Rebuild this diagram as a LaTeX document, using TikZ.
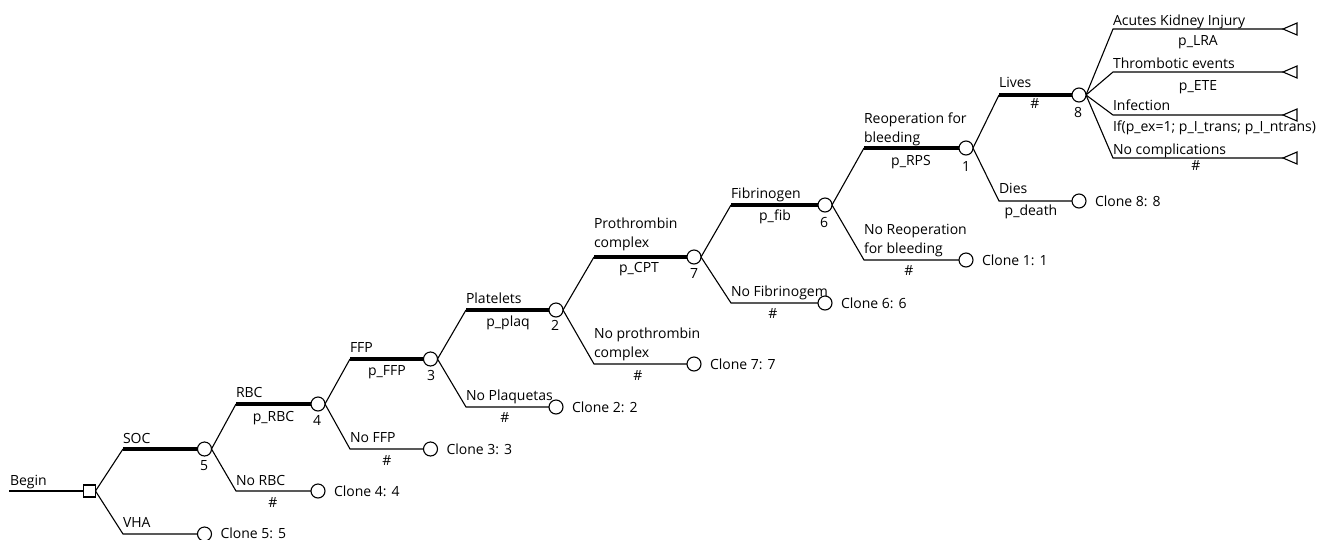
\documentclass[tikz,border=0pt]{standalone}
\usepackage{fontspec}
\setmainfont{Open Sans}
\usetikzlibrary{shapes.geometric,backgrounds}
\begin{document}
\begin{tikzpicture}[x=1pt,y=-1pt,
  every node/.style={font=\fontsize{14}{19}\selectfont, inner sep=0pt, outer sep=0pt},
  chance/.style={circle, draw, fill=white, minimum size=14pt, line width=1.1pt},
  decision/.style={rectangle, draw, fill=white, minimum size=12pt, line width=1.1pt},
  terminal/.style={isosceles triangle, shape border rotate=180, isosceles triangle stretches, minimum height=14pt, minimum width=12pt, draw, line width=1.1pt, anchor=apex},
  twig/.style={line width=1.1pt},
  optimal/.style={line width=4pt},
  lbl/.style={anchor=base west},
  lbltwo/.style={anchor=south west, align=left},
  prob/.style={anchor=base},
  num/.style={anchor=base},
  clonelbl/.style={anchor=base west}]
\useasboundingbox (0,0) rectangle (1336,539);

% ---- nodes ----
\coordinate (b0) at (9,491);
\node[decision] (D) at (89.5,491) {};
\coordinate (sSOC) at (123,449);   \node[chance] (c5) at (204.5,449) {};
\coordinate (sVHA) at (123,534);   \node[chance] (k5) at (204.5,534) {};
\coordinate (sRBC) at (236,404);   \node[chance] (c4) at (318,404) {};
\coordinate (sNRBC) at (236,491);  \node[chance] (k4) at (318,491) {};
\coordinate (sFFP) at (350,359);   \node[chance] (c3) at (430.5,359) {};
\coordinate (sNFFP) at (350,449);  \node[chance] (k3) at (430.5,449) {};
\coordinate (sPL) at (466,310);    \node[chance] (c2) at (556,310) {};
\coordinate (sNPL) at (466,407);   \node[chance] (k2) at (556,407) {};
\coordinate (sCPT) at (594,257);   \node[chance] (c7) at (694,257) {};
\coordinate (sNCPT) at (594,364);  \node[chance] (k7) at (694,364) {};
\coordinate (sFIB) at (731,205);   \node[chance] (c6) at (825,205) {};
\coordinate (sNFIB) at (731,303);  \node[chance] (k6) at (825,303) {};
\coordinate (sRPS) at (864,148);   \node[chance] (c1) at (966,148) {};
\coordinate (sNRPS) at (864,260);  \node[chance] (k1) at (966,260) {};
\coordinate (sLIV) at (999,95);    \node[chance] (c8) at (1079,95) {};
\coordinate (sDIE) at (999,201);   \node[chance] (k8) at (1079,201) {};
\coordinate (sAKI) at (1113,29);   \node[terminal] (t1) at (1283,29) {};
\coordinate (sTE) at (1113,72);    \node[terminal] (t2) at (1283,72) {};
\coordinate (sINF) at (1113,115);  \node[terminal] (t3) at (1283,115) {};
\coordinate (sNC) at (1113,158);   \node[terminal] (t4) at (1283,158) {};

% ---- connectors ----
\begin{pgfonlayer}{background}
\draw[twig] (b0) -- (D.west);
\draw[twig] (D.east) -- (sSOC);  \draw[optimal] (sSOC) -- (c5.west);
\draw[twig] (D.east) -- (sVHA) -- (k5.west);
\draw[twig] (c5.east) -- (sRBC); \draw[optimal] (sRBC) -- (c4.west);
\draw[twig] (c5.east) -- (sNRBC) -- (k4.west);
\draw[twig] (c4.east) -- (sFFP); \draw[optimal] (sFFP) -- (c3.west);
\draw[twig] (c4.east) -- (sNFFP) -- (k3.west);
\draw[twig] (c3.east) -- (sPL);  \draw[optimal] (sPL) -- (c2.west);
\draw[twig] (c3.east) -- (sNPL) -- (k2.west);
\draw[twig] (c2.east) -- (sCPT); \draw[optimal] (sCPT) -- (c7.west);
\draw[twig] (c2.east) -- (sNCPT) -- (k7.west);
\draw[twig] (c7.east) -- (sFIB); \draw[optimal] (sFIB) -- (c6.west);
\draw[twig] (c7.east) -- (sNFIB) -- (k6.west);
\draw[twig] (c6.east) -- (sRPS); \draw[optimal] (sRPS) -- (c1.west);
\draw[twig] (c6.east) -- (sNRPS) -- (k1.west);
\draw[twig] (c1.east) -- (sLIV); \draw[optimal] (sLIV) -- (c8.west);
\draw[twig] (c1.east) -- (sDIE) -- (k8.west);
\draw[twig] (c8.east) -- (sAKI) -- (t1.apex);
\draw[twig] (c8.east) -- (sTE) -- (t2.apex);
\draw[twig] (c8.east) -- (sINF) -- (t3.apex);
\draw[twig] (c8.east) -- (sNC) -- (t4.apex);
\end{pgfonlayer}

% ---- branch labels ----
\node[lbl] (lBegin) at (10,485) {Begin};
\node[lbl] (lSOC) at (123,443) {SOC};
\node[lbl] (lVHA) at (123,527.5) {VHA};
\node[lbl] (lRBC) at (236,397) {RBC};
\node[lbl] (lNRBC) at (236,485) {No RBC};
\node[lbl] (lFFP) at (350,352) {FFP};
\node[lbl] (lNFFP) at (350,442) {No FFP};
\node[lbl] (lPL) at (466,303) {Platelets};
\node[lbl] (lNPL) at (466,400) {No Plaquetas};
\node[lbltwo] (lCPT) at (594,251) {Prothrombin\\complex};
\node[lbltwo] (lNCPT) at (594,360.5) {No prothrombin\\complex};
\node[lbl] (lFIB) at (731,198) {Fibrinogen};
\node[lbl] (lNFIB) at (731,296) {No Fibrinogem};
\node[lbltwo] (lRPS) at (864,145.5) {Reoperation for\\bleeding};
\node[lbltwo] (lNRPS) at (864,256.5) {No Reoperation\\for bleeding};
\node[lbl] (lLIV) at (999,87.5) {Lives};
\node[lbl] (lDIE) at (999,193) {Dies};
\node[lbl] (lAKI) at (1113,25) {Acutes Kidney Injury};
\node[lbl] (lTE) at (1113,68) {Thrombotic events};
\node[lbl] (lINF) at (1113,110) {Infection};
\node[lbl] (lNC) at (1113,154) {No complications};

% ---- probabilities ----
\node[prob] (pRBC) at (273.5,421) {p\_RBC};
\node[prob] (pNRBC) at (273,507) {\#};
\node[prob] (pFFP) at (387,375) {p\_FFP};
\node[prob] (pNFFP) at (387,465) {\#};
\node[prob] (pPL) at (508,326) {p\_plaq};
\node[prob] (pNPL) at (505,422) {\#};
\node[prob] (pCPT) at (639,272) {p\_CPT};
\node[prob] (pNCPT) at (638,380) {\#};
\node[prob] (pFIB) at (775,220) {p\_fib};
\node[prob] (pNFIB) at (773,318) {\#};
\node[prob] (pRPS) at (911,165) {p\_RPS};
\node[prob] (pNRPS) at (909,275) {\#};
\node[prob] (pLIV) at (1035,108) {\#};
\node[prob] (pDIE) at (1031,215) {p\_death};
\node[prob] (pAKI) at (1198,45) {p\_LRA};
\node[prob] (pTE) at (1198,90) {p\_ETE};
\node[lbl] (pINF) at (1113,131) {If(p\_ex=1; p\_I\_trans; p\_I\_ntrans)};
\node[prob] (pNC) at (1196,170) {\#};

% ---- node numbers ----
\node[num] (n5) at (204,470) {5};
\node[num] (n4) at (317,425) {4};
\node[num] (n3) at (431,380) {3};
\node[num] (n2) at (555,330) {2};
\node[num] (n7) at (694,278) {7};
\node[num] (n6) at (824,227) {6};
\node[num] (n1) at (966,171) {1};
\node[num] (n8) at (1078,117) {8};

% ---- clone labels ----
\node[clonelbl] (x5) at (220.5,538) {Clone 5: 5};
\node[clonelbl] (x4) at (334,496) {Clone 4: 4};
\node[clonelbl] (x3) at (446.5,454) {Clone 3: 3};
\node[clonelbl] (x2) at (572,412) {Clone 2: 2};
\node[clonelbl] (x7) at (710,369) {Clone 7: 7};
\node[clonelbl] (x6) at (841,308) {Clone 6: 6};
\node[clonelbl] (x1) at (982,265) {Clone 1: 1};
\node[clonelbl] (x8) at (1095,206) {Clone 8: 8};
\end{tikzpicture}
\end{document}
